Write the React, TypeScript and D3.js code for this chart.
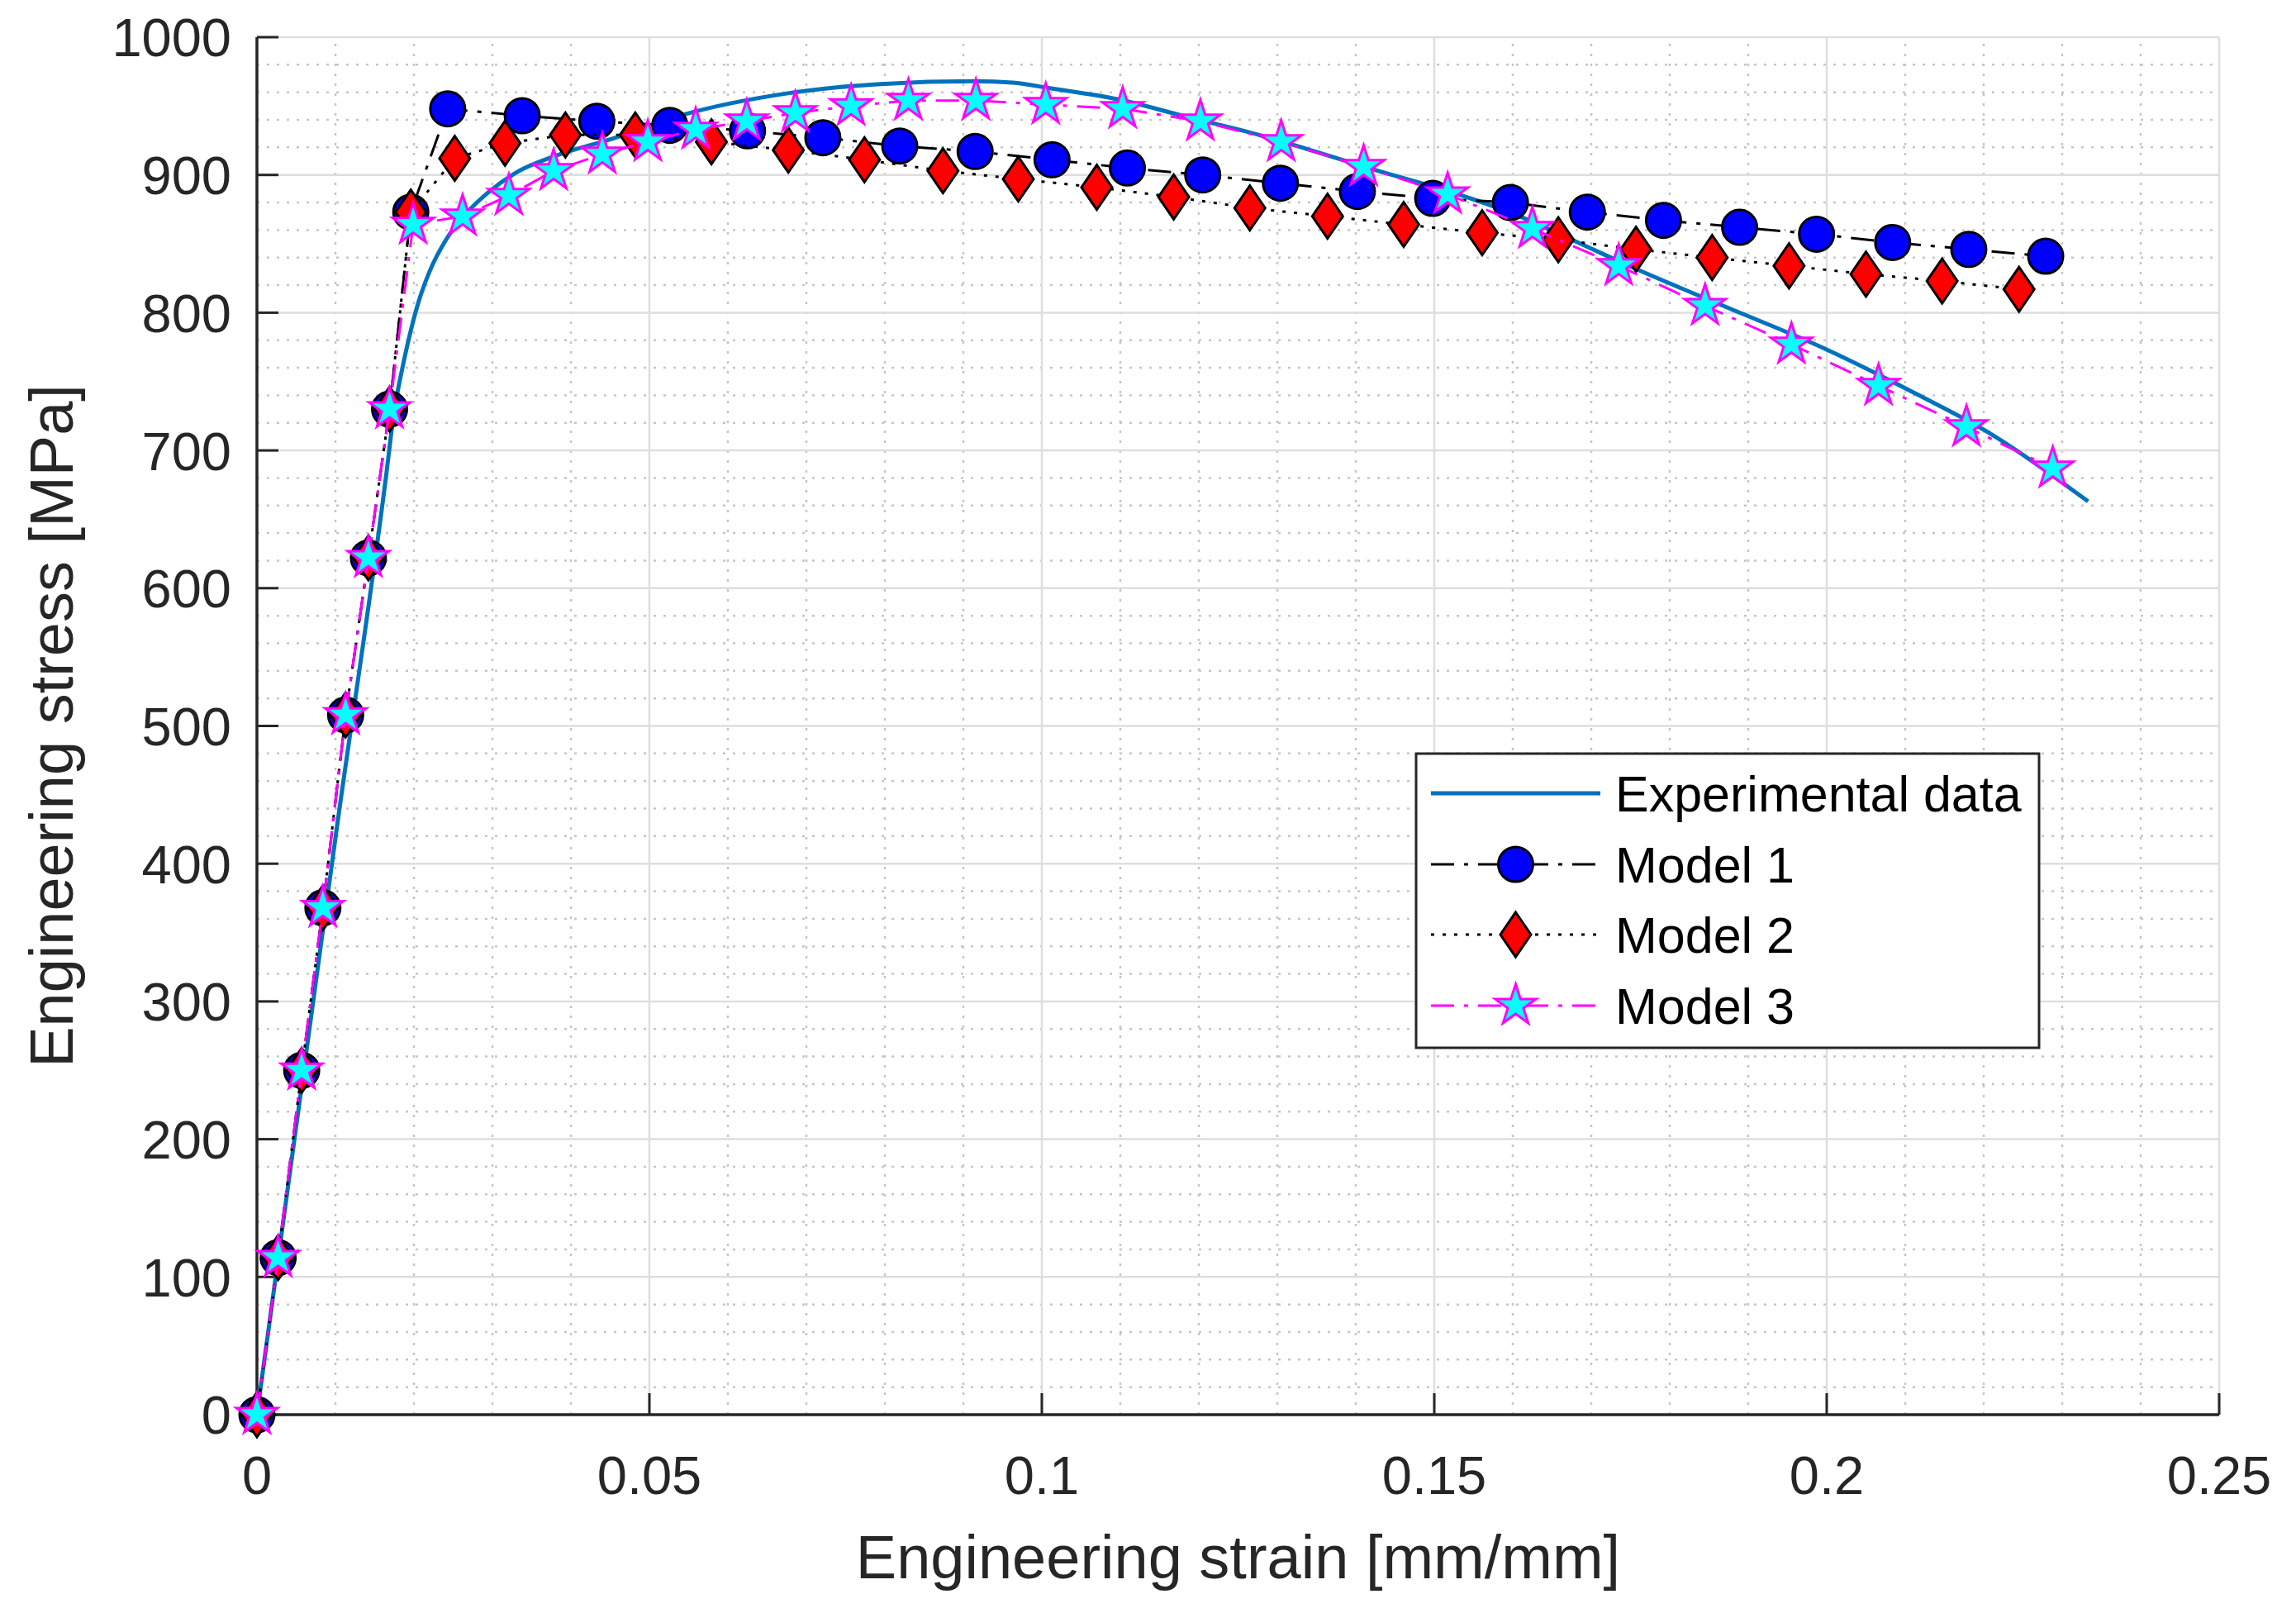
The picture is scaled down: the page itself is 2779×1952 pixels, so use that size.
import * as d3 from "d3"

// tick labels
const xTicks = [0, 0.05, 0.1, 0.15, 0.2, 0.25]
const yTicks = [0, 100, 200, 300, 400, 500, 600, 700, 800, 900, 1000]

// experimental curve (strain, stress)
const expStrain = [0, 0.0102, 0.0164, 0.0175, 0.0185, 0.0196, 0.0206, 0.022, 0.0241, 0.0265, 0.0294, 0.0328, 0.0381, 0.0451, 0.0545, 0.0673, 0.0794, 0.0915, 0.0963, 0.101, 0.1096, 0.1186, 0.1277, 0.1337, 0.1428, 0.1519, 0.16, 0.1675, 0.1756, 0.1868, 0.1997, 0.2104, 0.2212, 0.2333]
const expStress = [0, 427, 679, 729, 759, 787, 808, 830, 853, 871, 887, 901, 914, 926, 944, 959, 966, 968, 967, 963, 955, 942, 929, 919, 903, 888, 872, 853, 832, 805, 774, 744, 711, 663]

// elastic part shared by the three models
const elasticStrain = [0, 0.0027, 0.0057, 0.0084, 0.0113, 0.0142, 0.0169]
const elasticStress = [0, 114, 250, 368, 508, 622, 730]

const m1Strain = [0.0196, 0.0243, 0.0338, 0.0433, 0.0526, 0.0625, 0.0721, 0.0819, 0.0915, 0.1013, 0.1109, 0.1205, 0.1304, 0.1402, 0.1498, 0.1597, 0.1695, 0.1792, 0.1889, 0.1987, 0.2084, 0.2181, 0.2279]
const m1Stress = [873, 948, 943, 939, 936, 932, 927, 921, 917, 911, 905, 900, 894, 888, 883, 880, 873, 867, 862, 857, 851, 846, 841]

const m2Strain = [0.0196, 0.0252, 0.0316, 0.0393, 0.0482, 0.0579, 0.0677, 0.0774, 0.0874, 0.097, 0.107, 0.1168, 0.1265, 0.1364, 0.1461, 0.1561, 0.1658, 0.1757, 0.1854, 0.1952, 0.205, 0.2147, 0.2245]
const m2Stress = [873, 912, 923, 929, 929, 924, 918, 911, 903, 897, 891, 884, 876, 870, 864, 858, 853, 846, 840, 834, 828, 823, 817]

const m3Strain = [0.0199, 0.0262, 0.0321, 0.0378, 0.044, 0.0498, 0.0559, 0.0624, 0.0686, 0.0757, 0.083, 0.0916, 0.1005, 0.1103, 0.1202, 0.1305, 0.141, 0.1517, 0.1625, 0.1735, 0.1845, 0.1955, 0.2066, 0.2178, 0.2288]
const m3Stress = [864, 870, 885, 903, 915, 924, 933, 939, 945, 950, 954, 954, 951, 948, 939, 924, 906, 886, 861, 834, 805, 777, 747, 717, 687]

const legendLabels = ["Experimental data", "Model 1", "Model 2", "Model 3"]

const FONT = "'Liberation Sans', Arial, Helvetica, sans-serif"
const AXIS = "#262626"

const zip = (a: number[], b: number[]) => a.map((v, i) => [v, b[i]] as [number, number])

export default function App() {
  const width = 2779
  const height = 1952

  const x = d3.scaleLinear().domain([0, 0.25]).range([311, 2686])
  const y = d3.scaleLinear().domain([0, 1000]).range([1712, 45])

  const straight = d3
    .line<[number, number]>()
    .x((d) => x(d[0]))
    .y((d) => y(d[1]))
  const smooth = d3
    .line<[number, number]>()
    .x((d) => x(d[0]))
    .y((d) => y(d[1]))
    .curve(d3.curveMonotoneX)

  const elastic = zip(elasticStrain, elasticStress)
  const expData = zip(expStrain, expStress)
  const m1 = elastic.concat(zip(m1Strain, m1Stress))
  const m2 = elastic.concat(zip(m2Strain, m2Stress))
  const m3 = elastic.concat(zip(m3Strain, m3Stress))

  // marker shapes
  const circlePath = d3.symbol(d3.symbolCircle, Math.PI * 21 * 21)() as string
  const starPath = d3.symbol(d3.symbolStar, (26 * 26) / 0.8908130915292852)() as string
  const diamondPath = "M0,-27L18.5,0L0,27L-18.5,0Z"

  const series = [
    { data: m1, dash: "28,12,5,12", stroke: "#000000", path: circlePath, fill: "#0000FF", edge: "#000000" },
    { data: m2, dash: "4,10", stroke: "#000000", path: diamondPath, fill: "#FF0000", edge: "#000000" },
    { data: m3, dash: "28,12,5,12", stroke: "#FF00FF", path: starPath, fill: "#00FFFF", edge: "#FF00FF" },
  ]

  const majorX = x.ticks(5)
  const majorY = y.ticks(10)
  const minorX = x.ticks(25).filter((t) => !majorX.some((m) => Math.abs(m - t) < 1e-9))
  const minorY = y.ticks(50).filter((t) => !majorY.some((m) => Math.abs(m - t) < 1e-9))

  const [x0, x1] = x.range()
  const [y0, y1] = y.range()

  // legend layout
  const lg = { left: 1714, top: 912, right: 2468, bottom: 1268 }
  const rowY = [960, 1046, 1131, 1217]
  const sampleX0 = 1732
  const sampleX1 = 1937
  const sampleMid = (sampleX0 + sampleX1) / 2

  return (
    <svg
      width={width}
      height={height}
      style={{ position: "absolute", left: 0, top: 0, display: "block", background: "#fff" }}
      fontFamily={FONT}
    >
      <rect width={width} height={height} fill="#ffffff" />

      {/* minor grid */}
      {minorX.map((t) => (
        <line key={"mx" + t} x1={x(t)} x2={x(t)} y1={y0} y2={y1} stroke="#c6c6c6" strokeWidth={2.5} strokeDasharray="3,9" />
      ))}
      {minorY.map((t) => (
        <line key={"my" + t} x1={x0} x2={x1} y1={y(t)} y2={y(t)} stroke="#c6c6c6" strokeWidth={2.5} strokeDasharray="3,9" />
      ))}

      {/* major grid */}
      {majorX.map((t) => (
        <line key={"gx" + t} x1={x(t)} x2={x(t)} y1={y0} y2={y1} stroke="#dedede" strokeWidth={2.5} />
      ))}
      {majorY.map((t) => (
        <line key={"gy" + t} x1={x0} x2={x1} y1={y(t)} y2={y(t)} stroke="#dedede" strokeWidth={2.5} />
      ))}

      {/* axes */}
      <line x1={x0} x2={x1} y1={y0} y2={y0} stroke={AXIS} strokeWidth={3.5} />
      <line x1={x0} x2={x0} y1={y0} y2={y1} stroke={AXIS} strokeWidth={3.5} />
      {xTicks.map((t) => (
        <g key={"xt" + t}>
          <line x1={x(t)} x2={x(t)} y1={y0} y2={y0 - 26} stroke={AXIS} strokeWidth={3} />
          <text x={x(t)} y={1808} textAnchor="middle" fontSize={65} fill={AXIS}>
            {String(t)}
          </text>
        </g>
      ))}
      {yTicks.map((t) => (
        <g key={"yt" + t}>
          <line x1={x0} x2={x0 + 26} y1={y(t)} y2={y(t)} stroke={AXIS} strokeWidth={3} />
          <text x={280} y={y(t)} dy="0.36em" textAnchor="end" fontSize={65} fill={AXIS}>
            {String(t)}
          </text>
        </g>
      ))}

      <text x={(x0 + x1) / 2} y={1910} textAnchor="middle" fontSize={74} fill={AXIS}>
        Engineering strain [mm/mm]
      </text>
      <text
        transform={`translate(88,${(y0 + y1) / 2}) rotate(-90)`}
        textAnchor="middle"
        fontSize={74}
        fill={AXIS}
      >
        Engineering stress [MPa]
      </text>

      {/* experimental curve */}
      <path d={smooth(expData) as string} fill="none" stroke="#0072BD" strokeWidth={5} />

      {/* models */}
      {series.map((s, i) => (
        <g key={"s" + i}>
          <path d={straight(s.data) as string} fill="none" stroke={s.stroke} strokeWidth={3} strokeDasharray={s.dash} />
          {s.data.map((d, j) => (
            <path
              key={j}
              d={s.path}
              transform={`translate(${x(d[0])},${y(d[1])})`}
              fill={s.fill}
              stroke={s.edge}
              strokeWidth={3}
              strokeLinejoin="miter"
            />
          ))}
        </g>
      ))}

      {/* legend */}
      <rect x={lg.left} y={lg.top} width={lg.right - lg.left} height={lg.bottom - lg.top} fill="#ffffff" stroke={AXIS} strokeWidth={3} />
      <line x1={sampleX0} x2={sampleX1} y1={rowY[0]} y2={rowY[0]} stroke="#0072BD" strokeWidth={5} />
      {series.map((s, i) => (
        <g key={"lg" + i}>
          <line x1={sampleX0} x2={sampleX1} y1={rowY[i + 1]} y2={rowY[i + 1]} stroke={s.stroke} strokeWidth={3} strokeDasharray={s.dash} />
          <path d={s.path} transform={`translate(${sampleMid},${rowY[i + 1]})`} fill={s.fill} stroke={s.edge} strokeWidth={3} />
        </g>
      ))}
      {legendLabels.map((l, i) => (
        <text key={l} x={1955} y={rowY[i]} dy="0.36em" fontSize={61} fill="#000000">
          {l}
        </text>
      ))}
    </svg>
  )
}
